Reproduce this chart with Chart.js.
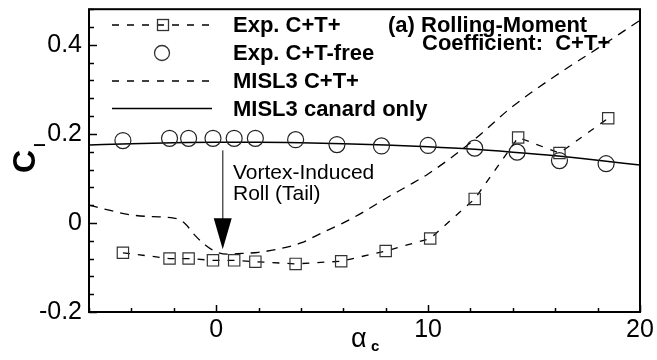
<!DOCTYPE html>
<html>
<head>
<meta charset="utf-8">
<script src="https://cdn.jsdelivr.net/npm/chart.js@4"></script>
<style>
  body { margin: 0; background: #fff; }
  #wrap { width: 657px; height: 360px; }
</style>
</head>
<body>
<div id="wrap"><canvas id="mainChart" width="657" height="360"></canvas></div>
<script>
// Exp. C+T+ (squares, dashed)
const expCTx = [-4.4, -2.2, -1.3, -0.15, 0.85, 1.85, 3.75, 5.9, 8.0, 10.1, 12.2, 14.25, 16.2, 18.5];
const expCTy = [-0.067, -0.08, -0.08, -0.084, -0.084, -0.087, -0.092, -0.086, -0.063, -0.035, 0.054, 0.192, 0.157, 0.235];

// Exp. C+T-free (circles)
const expFreeX = [-4.4, -2.2, -1.3, -0.15, 0.85, 1.85, 3.75, 5.7, 7.8, 10.0, 12.2, 14.2, 16.2, 18.4];
const expFreeY = [0.185, 0.19, 0.19, 0.19, 0.19, 0.19, 0.187, 0.176, 0.173, 0.174, 0.168, 0.159, 0.14, 0.133];

// MISL3 C+T+ (dashed)
const mislCTx = [-6, -5, -4, -3, -2, -1.5, -1, -0.5, 0, 0.5, 1, 2, 3, 4, 5, 6, 7, 8, 9, 10, 12, 14, 16, 18, 20];
const mislCTy = [0.04, 0.028, 0.018, 0.014, 0.011, 0.0, -0.028, -0.05, -0.065, -0.07, -0.069, -0.066, -0.058, -0.045, -0.022, 0.0, 0.026, 0.055, 0.082, 0.11, 0.18, 0.262, 0.33, 0.392, 0.455];

// MISL3 canard only (solid)
const canardX = [-6, -4, -2, 0, 2, 4, 6, 8, 10, 12, 14, 16, 18, 20];
const canardY = [0.175, 0.178, 0.18, 0.181, 0.181, 0.18, 0.178, 0.175, 0.171, 0.166, 0.159, 0.151, 0.141, 0.13];

const xLabels = [0, 10, 20];
const yLabels = [-0.2, 0, 0.2, 0.4];

const legendItems = ["Exp. C+T+", "Exp. C+T-free", "MISL3 C+T+", "MISL3 canard only"];

function pts(xs, ys) {
  return xs.map((x, i) => ({ x: x, y: ys[i] }));
}

function isLabel(v, list) {
  return list.some((l) => Math.abs(l - v) < 1e-6);
}

// dessine cadre, ticks vers l'intérieur, titres, légende, annotations
const decor = {
  id: "decor",
  afterDraw(chart) {
    const ctx = chart.ctx;
    const a = chart.chartArea;
    const xs = chart.scales.x;
    const ys = chart.scales.y;
    ctx.save();

    // ticks
    ctx.strokeStyle = "#000";
    ctx.lineWidth = 1.5;
    xs.ticks.forEach((t) => {
      const px = Math.round(xs.getPixelForValue(t.value)) + 0.5;
      const len = isLabel(t.value, xLabels) ? 7 : 4;
      ctx.beginPath();
      ctx.moveTo(px, a.bottom);
      ctx.lineTo(px, a.bottom - len);
      ctx.stroke();
    });
    ys.ticks.forEach((t) => {
      const py = Math.round(ys.getPixelForValue(t.value)) + 0.5;
      const len = isLabel(t.value, yLabels) ? 8 : 5;
      ctx.beginPath();
      ctx.moveTo(a.left, py);
      ctx.lineTo(a.left + len, py);
      ctx.stroke();
    });

    // cadre
    ctx.lineWidth = 2;
    ctx.strokeRect(a.left, a.top, a.right - a.left, a.bottom - a.top);

    // titre axe Y : C_l
    ctx.fillStyle = "#000";
    ctx.save();
    ctx.translate(35, 173);
    ctx.rotate(-Math.PI / 2);
    ctx.textAlign = "left";
    ctx.textBaseline = "alphabetic";
    ctx.font = "bold 32px 'Liberation Sans', Arial, sans-serif";
    ctx.fillText("C", 0, 0);
    ctx.font = "bold 14px 'Liberation Sans', Arial, sans-serif";
    ctx.fillText("l", 26, 10);
    ctx.restore();

    // titre axe X : alpha_c
    ctx.textAlign = "left";
    ctx.textBaseline = "alphabetic";
    ctx.font = "27px 'Liberation Sans', Arial, sans-serif";
    ctx.fillText("\u03B1", 351, 347);
    ctx.font = "bold 15px 'Liberation Sans', Arial, sans-serif";
    ctx.fillText("c", 371, 351);

    // légende
    const rows = [25, 53, 81, 108.5];
    ctx.strokeStyle = "#000";
    ctx.lineWidth = 1.3;
    // ligne 1 : tirets + carré
    ctx.setLineDash([7, 8]);
    ctx.beginPath();
    ctx.moveTo(112, rows[0]);
    ctx.lineTo(212, rows[0]);
    ctx.stroke();
    ctx.setLineDash([]);
    ctx.strokeStyle = "#333";
    ctx.strokeRect(157.5, rows[0] - 5.5, 11, 11);
    // ligne 2 : cercle
    ctx.beginPath();
    ctx.arc(162, rows[1], 7.5, 0, Math.PI * 2);
    ctx.stroke();
    // ligne 3 : tirets
    ctx.strokeStyle = "#000";
    ctx.setLineDash([7, 8]);
    ctx.beginPath();
    ctx.moveTo(112, rows[2]);
    ctx.lineTo(212, rows[2]);
    ctx.stroke();
    ctx.setLineDash([]);
    // ligne 4 : trait plein
    ctx.beginPath();
    ctx.moveTo(112, rows[3]);
    ctx.lineTo(212, rows[3]);
    ctx.stroke();

    ctx.font = "bold 22px 'Liberation Sans', Arial, sans-serif";
    ctx.textBaseline = "middle";
    legendItems.forEach((txt, i) => ctx.fillText(txt, 233, rows[i] + 1));

    // annotation en haut à droite
    ctx.textBaseline = "alphabetic";
    ctx.fillText("(a) Rolling-Moment", 388, 32);
    ctx.fillText("Coefficient:  C+T+", 422, 50);

    // flèche "Vortex-Induced Roll (Tail)"
    const ax = xs.getPixelForValue(0.31);
    const ay0 = ys.getPixelForValue(0.163);
    const ay1 = ys.getPixelForValue(-0.059);
    ctx.strokeStyle = "#555";
    ctx.lineWidth = 1.5;
    ctx.beginPath();
    ctx.moveTo(ax, ay0);
    ctx.lineTo(ax, ay1 - 20);
    ctx.stroke();
    ctx.fillStyle = "#000";
    ctx.beginPath();
    ctx.moveTo(ax - 9, ay1 - 31);
    ctx.lineTo(ax + 9, ay1 - 31);
    ctx.lineTo(ax, ay1);
    ctx.closePath();
    ctx.fill();

    ctx.font = "21px 'Liberation Sans', Arial, sans-serif";
    ctx.fillText("Vortex-Induced", 233, 179);
    ctx.fillText("Roll (Tail)", 233, 200);

    ctx.restore();
  },
};

const ctx = document.getElementById("mainChart").getContext("2d");
const tickFont = { family: "'Liberation Sans', Arial, sans-serif", size: 25 };

new Chart(ctx, {
  type: "scatter",
  data: {
    datasets: [
      {
        label: legendItems[0],
        data: pts(expCTx, expCTy),
        showLine: true,
        borderColor: "#000",
        borderWidth: 1.3,
        borderDash: [7, 8],
        pointStyle: "rect",
        pointRadius: 8,
        pointBorderColor: "#333",
        pointBackgroundColor: "rgba(0,0,0,0)",
        pointBorderWidth: 1.2,
        tension: 0,
      },
      {
        label: legendItems[1],
        data: pts(expFreeX, expFreeY),
        showLine: false,
        pointStyle: "circle",
        pointRadius: 8,
        pointBorderColor: "#222",
        pointBackgroundColor: "rgba(0,0,0,0)",
        pointBorderWidth: 1.2,
      },
      {
        label: legendItems[2],
        data: pts(mislCTx, mislCTy),
        showLine: true,
        borderColor: "#000",
        borderWidth: 1.3,
        borderDash: [9, 7],
        pointRadius: 0,
        cubicInterpolationMode: "monotone",
      },
      {
        label: legendItems[3],
        data: pts(canardX, canardY),
        showLine: true,
        borderColor: "#000",
        borderWidth: 1.5,
        pointRadius: 0,
        cubicInterpolationMode: "monotone",
      },
    ],
  },
  options: {
    responsive: false,
    animation: false,
    devicePixelRatio: 1,
    layout: { padding: { top: 8, right: 17, left: 0, bottom: 0 } },
    plugins: {
      legend: { display: false },
      tooltip: { enabled: false },
    },
    scales: {
      x: {
        type: "linear",
        min: -6,
        max: 20,
        grid: { display: false, drawTicks: false },
        border: { display: false },
        ticks: {
          stepSize: 2,
          maxTicksLimit: 100,
          autoSkip: false,
          maxRotation: 0,
          padding: 3,
          color: "#000",
          font: tickFont,
          callback: (v) => (isLabel(v, xLabels) ? String(Math.round(v)) : ""),
        },
        afterFit: (scale) => {
          scale.height = 48;
          scale.paddingLeft = 0;
          scale.paddingRight = 0;
        },
      },
      y: {
        type: "linear",
        min: -0.2,
        max: 0.48,
        grid: { display: false, drawTicks: false },
        border: { display: false },
        ticks: {
          stepSize: 0.04,
          maxTicksLimit: 100,
          autoSkip: false,
          padding: 7,
          color: "#000",
          font: tickFont,
          callback: (v) => {
            if (!isLabel(v, yLabels)) return "";
            const r = Math.round(v * 10) / 10;
            return r === 0 ? "0" : String(r);
          },
        },
        afterFit: (scale) => {
          scale.width = 89;
          scale.paddingTop = 0;
          scale.paddingBottom = 0;
        },
      },
    },
  },
  plugins: [decor],
});
</script>
</body>
</html>
